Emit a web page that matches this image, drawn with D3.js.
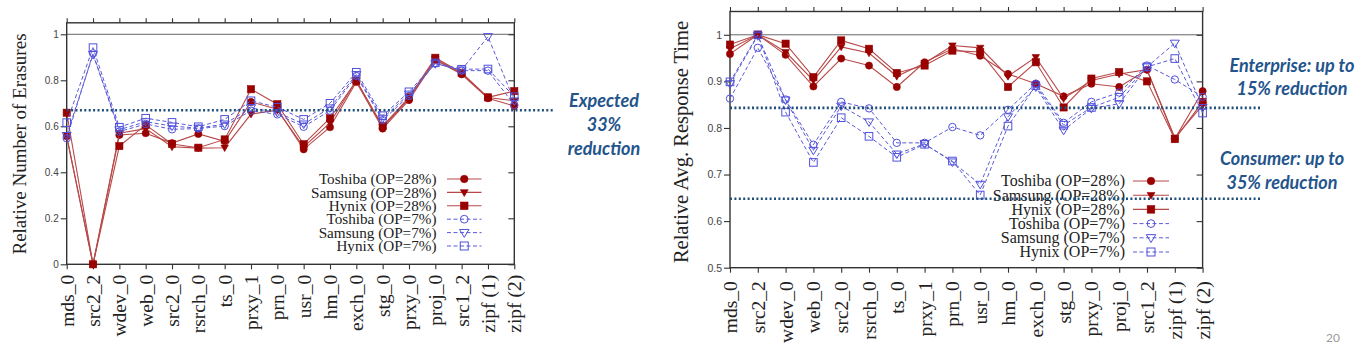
<!DOCTYPE html>
<html><head><meta charset="utf-8">
<script src="https://cdn.jsdelivr.net/npm/d3@7"></script>
<style>
html,body{margin:0;padding:0;background:#fff;}
svg{display:block;}
</style></head>
<body>
<svg id="chart" width="1365" height="355"></svg>
<script>
// ---------------- DATA ----------------
const categories = ["mds_0","src2_2","wdev_0","web_0","src2_0","rsrch_0","ts_0","prxy_1","prn_0","usr_0","hm_0","exch_0","stg_0","prxy_0","proj_0","src1_2","zipf (1)","zipf (2)"];
const seriesNames = ["Toshiba (OP=28%)","Samsung (OP=28%)","Hynix (OP=28%)","Toshiba (OP=7%)","Samsung (OP=7%)","Hynix (OP=7%)"];

// Relative number of erasures (left chart)
const toshiba28Erase = [0.557,0,0.562,0.570,0.527,0.567,0.535,0.706,0.674,0.500,0.596,0.793,0.590,0.714,0.888,0.826,0.722,0.688];
const samsung28Erase = [0.555,0,0.570,0.590,0.511,0.505,0.507,0.653,0.670,0.510,0.615,0.800,0.596,0.720,0.893,0.830,0.725,0.711];
const hynix28Erase   = [0.659,0,0.514,0.606,0.523,0.507,0.543,0.761,0.696,0.522,0.635,0.797,0.601,0.726,0.898,0.833,0.726,0.753];
const toshiba7Erase  = [0.548,0.917,0.577,0.610,0.587,0.590,0.601,0.668,0.652,0.598,0.668,0.819,0.627,0.732,0.874,0.842,0.842,0.693];
const samsung7Erase  = [0.560,0.912,0.585,0.620,0.601,0.592,0.610,0.680,0.660,0.610,0.680,0.825,0.635,0.740,0.872,0.845,0.990,0.710];
const hynix7Erase    = [0.616,0.942,0.596,0.635,0.617,0.598,0.630,0.711,0.683,0.630,0.700,0.835,0.646,0.750,0.876,0.848,0.849,0.729];

// Relative avg. response time (right chart)
const toshiba28Resp = [0.959,1.000,0.957,0.889,0.949,0.934,0.888,0.941,0.970,0.955,0.916,0.895,0.868,0.895,0.888,0.925,0.777,0.879];
const samsung28Resp = [0.970,1.000,0.963,0.902,0.974,0.961,0.911,0.939,0.977,0.972,0.911,0.952,0.863,0.902,0.916,0.925,0.779,0.849];
const hynix28Resp   = [0.979,1.000,0.981,0.909,0.988,0.970,0.918,0.934,0.966,0.963,0.888,0.941,0.844,0.906,0.920,0.900,0.776,0.856];
const toshiba7Resp  = [0.863,0.972,0.861,0.764,0.856,0.842,0.768,0.768,0.802,0.784,0.839,0.895,0.811,0.856,0.876,0.934,0.904,0.867];
const samsung7Resp  = [0.895,0.998,0.860,0.752,0.847,0.813,0.744,0.766,0.727,0.679,0.824,0.888,0.795,0.842,0.852,0.931,0.982,0.844];
const hynix7Resp    = [0.899,1.000,0.834,0.726,0.822,0.782,0.737,0.765,0.729,0.656,0.804,0.891,0.806,0.844,0.866,0.931,0.949,0.832];

const eraseTicks = [0,0.2,0.4,0.6,0.8,1];
const respTicks = [0.5,0.6,0.7,0.8,0.9,1];
const eraseTarget = [0.67];
const respTargets = [0.843,0.648];

// ---------------- DRAWING ----------------
const svg = d3.select("#chart");
const RED_LINE = "#b84848", RED_MARK = "#990000";
const BLUE_LINE = "#5a5ad8", BLUE_MARK = "#5050dd";
const NAVY = "#1f4e79", ANNOT = "#24548c";

const styles = [
  {shape:"circle", filled:true},
  {shape:"tri", filled:true},
  {shape:"square", filled:true},
  {shape:"circle", filled:false},
  {shape:"tri", filled:false},
  {shape:"square", filled:false}
];

function marker(g, shape, filled, x, y, k) {
  const col = filled ? RED_MARK : BLUE_MARK;
  let el;
  if (shape === "circle") {
    el = g.append("circle").attr("cx", x).attr("cy", y).attr("r", (filled ? 3.6 : 3.7) * k);
  } else if (shape === "square") {
    const s = (filled ? 7.2 : 7.6) * k;
    el = g.append("rect").attr("x", x - s/2).attr("y", y - s/2).attr("width", s).attr("height", s);
  } else {
    const w = (filled ? 7.5 : 9) * k, h = (filled ? 6.5 : 7.5) * k;
    el = g.append("path").attr("d", `M${x - w/2},${y - h*0.4}L${x + w/2},${y - h*0.4}L${x},${y + h*0.6}Z`);
  }
  if (filled) el.attr("fill", col).attr("stroke", col).attr("stroke-width", 0.6);
  else el.attr("fill", "none").attr("stroke", col).attr("stroke-width", 1);
}

function drawChart(cfg) {
  const g = svg.append("g");
  const x = d3.scalePoint().domain(categories).range([cfg.x0, cfg.x1]).padding(0);
  const y = d3.scaleLinear().domain(cfg.domain).range([cfg.bottom, cfg.top]);

  // gridline at 1
  g.append("line").attr("x1", cfg.x0).attr("x2", cfg.x1).attr("y1", y(1)).attr("y2", y(1))
    .attr("stroke", "#555").attr("stroke-width", 0.9);

  // Left axis
  const ax = g.append("g").attr("transform", `translate(${cfg.x0},0)`)
    .call(d3.axisLeft(y).tickValues(cfg.ticks).tickSize(6).tickPadding(2)
      .tickFormat(d => (d === 0 || d === 1) ? String(d) : d.toFixed(1)));
  ax.select(".domain").remove();
  ax.selectAll("line").attr("stroke", "#333").attr("stroke-width", 1.1);
  ax.selectAll("text").attr("font-family", "Liberation Sans, Arial, sans-serif")
    .attr("font-size", cfg.tickFont).attr("fill", "#444");

  // Right axis (inward ticks)
  const ar = g.append("g").attr("transform", `translate(${cfg.x1},0)`)
    .call(d3.axisRight(y).tickValues(cfg.ticks).tickSize(-6).tickFormat(""));
  ar.select(".domain").remove();
  ar.selectAll("line").attr("stroke", "#333").attr("stroke-width", 1.1);

  // Top axis (ticks up)
  const at = g.append("g").attr("transform", `translate(0,${cfg.top})`)
    .call(d3.axisTop(x).tickSize(4.5).tickFormat(""));
  at.select(".domain").remove();
  at.selectAll("line").attr("stroke", "#333").attr("stroke-width", 1.1);

  // Bottom axis
  const ab = g.append("g").attr("transform", `translate(0,${cfg.bottom})`)
    .call(d3.axisBottom(x).tickSize(5));
  ab.select(".domain").remove();
  ab.selectAll("line").attr("stroke", "#333").attr("stroke-width", 1.1);
  ab.selectAll("text")
    .attr("transform", "rotate(-90)")
    .attr("text-anchor", "end")
    .attr("x", -cfg.labelGap).attr("y", 0).attr("dy", "0.33em")
    .attr("font-family", "Liberation Serif, Times New Roman, serif")
    .attr("font-size", cfg.xFont).attr("fill", "#222");

  // frame
  g.append("rect").attr("x", cfg.x0).attr("y", cfg.top).attr("width", cfg.x1 - cfg.x0)
    .attr("height", cfg.bottom - cfg.top).attr("fill", "none").attr("stroke", "#333").attr("stroke-width", 1.4);

  // y label
  g.append("text").attr("transform", `translate(${cfg.ylabX},${cfg.ylabY}) rotate(-90)`)
    .attr("text-anchor", "middle")
    .attr("font-family", "Liberation Serif, Times New Roman, serif")
    .attr("font-size", cfg.yFont).attr("fill", "#222").text(cfg.ylabel);

  // series
  const line = d3.line().x((d, i) => x(categories[i])).y(d => y(d));
  cfg.series.forEach((vals, si) => {
    const st = styles[si];
    g.append("path").attr("d", line(vals)).attr("fill", "none")
      .attr("stroke", st.filled ? RED_LINE : BLUE_LINE)
      .attr("stroke-width", st.filled ? 1.1 : 1)
      .attr("stroke-dasharray", st.filled ? null : "4,2.5");
    vals.forEach((v, i) => marker(g, st.shape, st.filled, x(categories[i]), y(v), 1));
  });

  // legend
  seriesNames.forEach((name, si) => {
    const st = styles[si];
    const ly = cfg.legY0 + si * cfg.legDy;
    g.append("text").attr("x", cfg.legTextX).attr("y", ly).attr("dy", "0.34em")
      .attr("text-anchor", "end")
      .attr("font-family", "Liberation Serif, Times New Roman, serif")
      .attr("font-size", cfg.legFont).attr("fill", "#222").text(name);
    g.append("line").attr("x1", cfg.legL1).attr("x2", cfg.legL2).attr("y1", ly).attr("y2", ly)
      .attr("stroke", st.filled ? RED_LINE : BLUE_LINE).attr("stroke-width", st.filled ? 1.1 : 1)
      .attr("stroke-dasharray", st.filled ? null : "4,2.5");
    marker(g, st.shape, st.filled, (cfg.legL1 + cfg.legL2) / 2, ly, 1.05);
  });

  // target dotted lines
  cfg.targets.forEach(t => {
    g.append("line").attr("x1", cfg.x0).attr("x2", cfg.dotEnd).attr("y1", y(t)).attr("y2", y(t))
      .attr("stroke", NAVY).attr("stroke-width", 2.6).attr("stroke-dasharray", "2,2.4");
  });
}

drawChart({
  x0: 66.7, x1: 514.3, top: 22.8, bottom: 264.3, domain: [0, 1.05], ticks: eraseTicks,
  tickFont: 10, xFont: 19.5, labelGap: 10.5, yFont: 19, ylabX: 25.5, ylabY: 144,
  ylabel: "Relative Number of Erasures",
  series: [toshiba28Erase, samsung28Erase, hynix28Erase, toshiba7Erase, samsung7Erase, hynix7Erase],
  legY0: 179, legDy: 13.4, legTextX: 436.5, legL1: 447, legL2: 481.5, legFont: 15.2,
  targets: eraseTarget, dotEnd: 554
});

drawChart({
  x0: 730, x1: 1202.6, top: 11.5, bottom: 267.7, domain: [0.5, 1.05], ticks: respTicks,
  tickFont: 10.5, xFont: 19.5, labelGap: 13.5, yFont: 20.5, ylabX: 688, ylabY: 142,
  ylabel: "Relative Avg. Response Time",
  series: [toshiba28Resp, samsung28Resp, hynix28Resp, toshiba7Resp, samsung7Resp, hynix7Resp],
  legY0: 181, legDy: 14.2, legTextX: 1125, legL1: 1133, legL2: 1169, legFont: 16.0,
  targets: respTargets, dotEnd: 1262
});

// annotations
function annot(lines, cx, y0, dy) {
  const t = svg.append("text").attr("text-anchor", "middle")
    .attr("font-family", "Lato, Open Sans, sans-serif").attr("font-weight", "bold")
    .attr("font-style", "italic").attr("font-size", 18).attr("fill", ANNOT);
  lines.forEach((s, i) => t.append("tspan").attr("x", cx).attr("y", y0 + i * dy).text(s));
}
annot(["Expected", "33%", "reduction"], 604, 106.5, 24.3);
annot(["Enterprise: up to", "15% reduction"], 1292, 71.5, 23.5);
annot(["Consumer: up to", "35% reduction"], 1282, 165, 23.5);

svg.append("text").attr("x", 1333).attr("y", 341.5).attr("text-anchor", "middle")
  .attr("font-family", "Lato, sans-serif").attr("font-size", 12).attr("fill", "#999").text("20");
</script>
</body></html>
